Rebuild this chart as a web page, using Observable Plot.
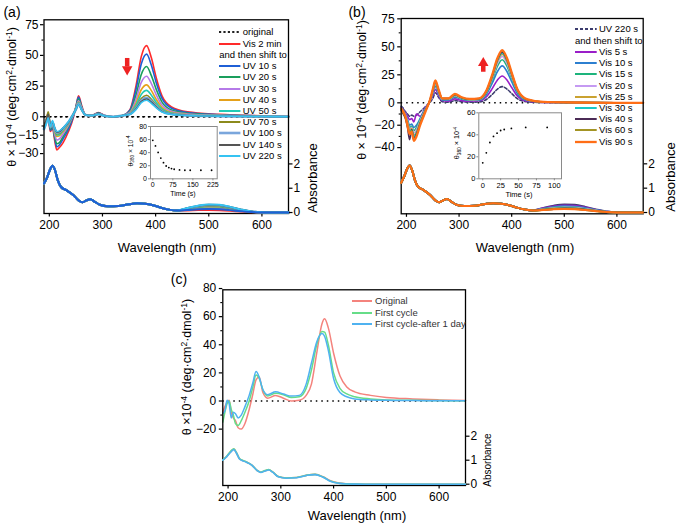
<!DOCTYPE html>
<html><head><meta charset="utf-8">
<script src="https://cdn.jsdelivr.net/npm/d3@7"></script>
<script src="https://cdn.jsdelivr.net/npm/@observablehq/plot@0.6"></script>
<style>
body{margin:0;background:#fff;}
#root{position:relative;width:678px;height:523px;overflow:hidden;background:#fff;font-family:"Liberation Sans",Arial,Helvetica,sans-serif;}
.sp{font-size:0.68em;vertical-align:0.5em;line-height:0;}
.sb{font-size:0.68em;vertical-align:-0.3em;line-height:0;}
</style></head><body><div id="root"></div>
<script>
// ---------- DATA ----------
// Panel (a) CD spectra
const WL_A = [190,194,198,202,206,210,214,219,226,236,245,250,255,261,268,280,292,305,320,338,352,363,373,383,392,401,412,430,460,520,600,650];
const origA_wl = [190,650];
const origA_v = [0,0];
const cdA_vis2  = [-10,-5,-2,-12,-9,-19,-27,-25,-21,-12,-1,8,17,9,1.5,1,3.5,1,0,1,6,25,49,58,48,32,17,8,4,2,0.8,0.3];
const cdA_uv10  = [-10,-4,-1,-11,-8,-17,-24.5,-23,-18,-10,0,8,16,8,1.5,1,3,1,0,1,5.5,22,43,51,42,28,15,7,3.5,1.7,0.7,0.2];
const cdA_uv20  = [-9,-4,0,-10,-7,-16,-22,-21,-16,-8,1,7.5,14.5,7.5,1.5,1,2.8,0.8,0,1,4.5,17.5,34.5,41,33.5,22.5,12,5.5,2.8,1.4,0.6,0.2];
const cdA_uv30  = [-9,-3,1,-9,-6,-14,-19,-18,-14,-7,1.5,7,13,7,1.5,1,2.5,0.8,0,1,3.8,14,28,33,27,18,9.5,4.5,2.3,1.1,0.5,0.1];
const cdA_uv40  = [-8,-3,3,-8,-5,-12,-16,-15.5,-12,-6,2,7,12,6.5,1.5,1,2.3,0.7,0,1,3.2,11,22,26,21.3,14.3,7.5,3.6,1.8,0.9,0.4,0.1];
const cdA_uv50  = [-9,-4,1,-8,-6,-11,-15,-14.5,-11,-5.5,2,6.5,11.5,6.5,1.5,1,2.2,0.7,0,1,2.8,9.3,18.2,21.5,17.6,11.8,6.2,3,1.5,0.8,0.3,0.1];
const cdA_uv70  = [-9,-3,4,-7,-5,-10,-14,-13.5,-10,-5,2,6.5,11,6,1.5,1,2.1,0.6,0,1,2.4,7.5,14.8,17.5,14.3,9.6,5,2.5,1.3,0.6,0.3,0.1];
const cdA_uv100 = [-10,-5,0,-7,-5,-9.5,-13,-12.5,-9.5,-4.5,2,6,10.5,6,1.5,1,2,0.6,0,1,2.2,6.7,13.1,15.5,12.7,8.5,4.5,2.2,1.1,0.5,0.2,0.1];
const cdA_uv140 = [-9,-3,2,-7,-4,-9,-12.5,-12,-9,-4.5,2,6,10,5.5,1.5,1,2,0.6,0,1,2.1,6.3,12.3,14.5,11.9,8,4.2,2,1,0.5,0.2,0];
const cdA_uv220 = [-10,-6,-1,-8,-3,-9,-12,-11.5,-9,-4,2,6,10,5.5,1.5,1,2,0.6,0,1,2,5.8,11.5,13.5,11,7.4,3.9,1.9,1,0.5,0.2,0];

// Absorbance wavelength grids: short-wavelength part and visible-band part
const WL_ABS_UV = [190,196,201,206,211,216,222,232,245,255,262,270,277,285,295,310,330,350,365,380,395,410,425,440];
const WL_ABS_VIS = [460,480,500,520,540,560,580,600,620,650];
// Panel (a) absorbance (curves overlap below 440 nm; differ in the visible band)
const absA_uv = [1.2,1.45,1.75,1.92,1.72,1.32,1.05,0.92,0.72,0.5,0.42,0.5,0.55,0.45,0.32,0.26,0.27,0.34,0.38,0.36,0.3,0.2,0.12,0.08];
const absA_vis2  = [0.086,0.102,0.108,0.096,0.071,0.04,0.015,0.002,0,0];
const absA_uv10  = [0.104,0.134,0.146,0.134,0.099,0.056,0.019,0.004,0,0];
const absA_uv20  = [0.122,0.165,0.185,0.172,0.127,0.071,0.024,0.005,0,0];
const absA_uv30  = [0.136,0.188,0.214,0.2,0.148,0.082,0.028,0.006,0,0];
const absA_uv40  = [0.149,0.212,0.243,0.229,0.169,0.094,0.031,0.007,0,0];
const absA_uv50  = [0.158,0.227,0.263,0.248,0.183,0.101,0.034,0.007,0,0];
const absA_uv70  = [0.167,0.243,0.282,0.267,0.197,0.109,0.036,0.008,0,0];
const absA_uv100 = [0.176,0.258,0.302,0.286,0.211,0.116,0.039,0.008,0,0];
const absA_uv140 = [0.185,0.274,0.321,0.305,0.225,0.124,0.041,0.009,0,0];
const absA_uv220 = [0.19,0.282,0.331,0.315,0.232,0.128,0.042,0.009,0,0];

// Panel (a) inset
const insetA_t = [0,10,20,30,40,50,60,70,80,100,120,140,180,220];
const insetA_v = [58.9,50.3,40.3,31.7,24.7,19.6,17.1,15.6,14.6,13.6,13.1,13.1,13.1,13.1];

// Panel (b) CD spectra
const WL_B = [190,194,198,202,206,210,214,219,226,236,245,250,255,261,268,280,292,305,320,338,352,363,373,382,391,400,412,430,460,520,600,650];
const cdB_uv220 = [-3,-5,-8,-10,-12,-11,-12,-11,-8,-3.5,0.5,4,9,5,1,0.5,2,1,0.5,0.8,3,7.5,12.3,14.5,12.3,8.3,3.3,0.9,0.3,0.1,0,0];
const cdB_vis5  = [-4,-6,-9,-12,-15,-14,-17,-10,-12,-4,1.5,6.5,12,6.5,2,1.5,3.5,2,1.5,1.8,5.5,12.7,20.4,24,20.4,13.7,5.5,1.4,0.4,0.1,0,0];
const cdB_vis10 = [-4,-7,-10,-15,-20,-19,-22,-20,-14,-5,2,8,15,8,2.6,2.6,5,3.2,2.2,2.5,7.5,17.5,28,33,28,18.8,7.5,2,0.5,0.2,0,0];
const cdB_vis15 = [-5,-7,-11,-16,-22,-21,-25,-22,-15,-5.5,2,9,16,9,3,3,5.8,3.7,2.5,2.8,8.8,20.4,32.7,38.5,32.7,22,8.8,2.3,0.6,0.2,0,0];
const cdB_vis20 = [-5,-8,-11,-17,-24,-22,-27,-24,-16,-6,2.5,9.5,17,9.5,3.2,3.2,6.3,4,2.7,3,9.5,22,35.3,41.5,35.3,23.7,9.5,2.5,0.6,0.2,0,0];
const cdB_vis25 = [-6,-8,-13,-18,-25,-23,-29,-26,-17,-6.5,2.5,10,18,10,3.4,3.4,6.7,4.2,2.9,3.2,10,23,37,43.5,37,24.8,10,2.6,0.7,0.3,0,0];
const cdB_vis30 = [-5,-9,-12,-19,-26,-24,-30,-27,-18,-7,2.5,10.5,18.5,10.5,3.6,3.6,7,4.4,3,3.4,10.2,23.5,37.8,44.5,37.8,25.3,10.2,2.7,0.7,0.3,0,0];
const cdB_vis40 = [-7,-10,-14,-22,-33,-24,-32,-28,-18.5,-7,3,11,19,11,3.8,3.8,7.2,4.6,3.2,3.6,10.5,24,38.7,45.5,38.7,26,10.5,2.8,0.7,0.3,0,0];
const cdB_vis60 = [-6,-9,-13,-21,-27,-25,-33,-29,-19,-7.5,3,11.5,19.5,11.5,4,4,7.5,4.8,3.3,3.8,10.8,24.5,39.5,46.5,39.5,26.5,10.8,3,0.8,0.3,0,0];
const cdB_vis90 = [-5,-8,-12,-20,-28,-26,-34,-30,-20,-8,3,12,20,12,4,4,8,5,3.5,4,11,25,40,47,40,27,11,3,0.8,0.3,0,0];

// Panel (b) absorbance
const absB_uv = [1.22,1.5,1.78,1.93,1.72,1.33,1.06,0.93,0.72,0.5,0.42,0.5,0.55,0.45,0.32,0.27,0.28,0.35,0.38,0.36,0.3,0.2,0.12,0.08];
const absB_uv220 = [0.19,0.282,0.331,0.315,0.232,0.128,0.042,0.009,0,0];
const absB_vis5  = [0.172,0.251,0.292,0.277,0.204,0.113,0.037,0.008,0,0];
const absB_vis10 = [0.154,0.219,0.253,0.239,0.176,0.097,0.033,0.007,0,0];
const absB_vis15 = [0.14,0.196,0.224,0.21,0.155,0.086,0.029,0.006,0,0];
const absB_vis20 = [0.131,0.18,0.205,0.191,0.141,0.078,0.027,0.005,0,0];
const absB_vis25 = [0.122,0.165,0.185,0.172,0.127,0.071,0.024,0.005,0,0];
const absB_vis30 = [0.118,0.157,0.176,0.163,0.12,0.067,0.023,0.005,0,0];
const absB_vis40 = [0.113,0.149,0.166,0.153,0.113,0.063,0.022,0.004,0,0];
const absB_vis60 = [0.109,0.141,0.156,0.144,0.106,0.059,0.021,0.004,0,0];
const absB_vis90 = [0.104,0.134,0.146,0.134,0.099,0.056,0.019,0.004,0,0];

// Panel (b) inset
const insetB_t = [0,5,10,15,20,25,30,40,60,90];
const insetB_v = [14.5,23.6,33,38.5,41.5,43.9,44.8,45.8,46.7,46.7];

// Panel (c) CD spectra
const WL_C = [190,194,198,202,206,210,214,219,225,232,240,247,253,259,266,275,290,305,320,335,348,358,368,378,383,390,400,412,425,440,470,500,550,600,650];
const cdC_orig  = [-8,-4,-1,0.5,-8,-12,-14,-19,-20,-16,-6,5,15,17,6,2,4,2,0,0.5,4,12,34,55,58.5,52,34,18,10,6.5,4,2.5,1.5,0.8,0.3];
const cdC_first = [-15,-8,-2,0,-6,-10,-16,-17.5,-14,-8,0,10,18.5,16,8,3.5,5.5,4.5,2.5,3,9,22,40,49.5,49,40,20,9,5,3,1.5,0.8,0.5,0.3,0.1];
const cdC_day   = [-9,-7,0.5,-2,-12,-8,-9,-12,-10,-4,4,13,21,17,8,4.5,6.5,5,3.5,4,12,27,42,48,46,36,16,6,3,1.5,0.8,0.5,0.3,0.2,0.1];
// Panel (c) absorbance
const absC_orig_uv  = [1.0,1.12,1.25,1.38,1.46,1.3,1.05,0.95,0.8,0.58,0.5,0.56,0.6,0.5,0.32,0.26,0.28,0.38,0.41,0.31,0.13,0.045,0.015,0.005];
const absC_first_uv = [1.0,1.13,1.27,1.4,1.48,1.31,1.06,0.96,0.8,0.58,0.5,0.57,0.61,0.5,0.32,0.26,0.28,0.38,0.41,0.3,0.12,0.04,0.012,0.004];
const absC_day_uv   = [1.0,1.11,1.24,1.36,1.44,1.29,1.04,0.94,0.79,0.57,0.49,0.55,0.59,0.49,0.31,0.25,0.27,0.37,0.4,0.29,0.11,0.035,0.01,0.003];
const absC_vis = [0,0,0,0,0,0,0,0,0,0];

// Tick labels
const X_TICKS = [200,300,400,500,600];
const YA_TICKS = [-30,-15,0,25,50,75];
const YB_TICKS = [-40,-20,0,25,50,75];
const YC_TICKS = [-20,0,20,40,60,80];
const ABS_TICKS = [0,1,2];
const INSET_A_XT = [0,75,150,225];
const INSET_A_YT = [0,20,40,60,80];
const INSET_B_XT = [0,25,50,75,100];
const INSET_B_YT = [0,20,40,60];

// ---------- SERIES DEFINITIONS ----------
const WL_ABS = WL_ABS_UV.concat(WL_ABS_VIS);
const seriesA = [
  {name:"Vis 2 min", c:"#ff2a2a", cd:cdA_vis2, ab:absA_uv.concat(absA_vis2)},
  {name:"UV 10 s",  c:"#1f5fd6", cd:cdA_uv10, ab:absA_uv.concat(absA_uv10)},
  {name:"UV 20 s",  c:"#1a9e5c", cd:cdA_uv20, ab:absA_uv.concat(absA_uv20)},
  {name:"UV 30 s",  c:"#b57ae8", cd:cdA_uv30, ab:absA_uv.concat(absA_uv30)},
  {name:"UV 40 s",  c:"#e5a11a", cd:cdA_uv40, ab:absA_uv.concat(absA_uv40)},
  {name:"UV 50 s",  c:"#22cbb5", cd:cdA_uv50, ab:absA_uv.concat(absA_uv50)},
  {name:"UV 70 s",  c:"#8c8a1c", cd:cdA_uv70, ab:absA_uv.concat(absA_uv70)},
  {name:"UV 100 s", c:"#7aa6dc", cd:cdA_uv100, ab:absA_uv.concat(absA_uv100), sw:2.6},
  {name:"UV 140 s", c:"#555555", cd:cdA_uv140, ab:absA_uv.concat(absA_uv140)},
  {name:"UV 220 s", c:"#35c3f2", cd:cdA_uv220, ab:absA_uv.concat(absA_uv220)}
];
const seriesB = [
  {name:"UV 220 s", c:"#3c3c6e", cd:cdB_uv220, ab:absB_uv.concat(absB_uv220), dash:"3,2"},
  {name:"Vis 5 s",  c:"#9a1ec8", cd:cdB_vis5,  ab:absB_uv.concat(absB_vis5)},
  {name:"Vis 10 s", c:"#2c7fd0", cd:cdB_vis10, ab:absB_uv.concat(absB_vis10)},
  {name:"Vis 15 s", c:"#1db47c", cd:cdB_vis15, ab:absB_uv.concat(absB_vis15)},
  {name:"Vis 20 s", c:"#c59af2", cd:cdB_vis20, ab:absB_uv.concat(absB_vis20)},
  {name:"Vis 25 s", c:"#caa230", cd:cdB_vis25, ab:absB_uv.concat(absB_vis25)},
  {name:"Vis 30 s", c:"#19c7c7", cd:cdB_vis30, ab:absB_uv.concat(absB_vis30)},
  {name:"Vis 40 s", c:"#4b2b56", cd:cdB_vis40, ab:absB_uv.concat(absB_vis40)},
  {name:"Vis 60 s", c:"#a39424", cd:cdB_vis60, ab:absB_uv.concat(absB_vis60)},
  {name:"Vis 90 s", c:"#ff6e16", cd:cdB_vis90, ab:absB_uv.concat(absB_vis90), sw:2.3}
];
const seriesC = [
  {name:"Original", c:"#f4837d", cd:cdC_orig, ab:absC_orig_uv.concat(absC_vis)},
  {name:"First cycle", c:"#66dd88", cd:cdC_first, ab:absC_first_uv.concat(absC_vis)},
  {name:"First cycle-after 1 day", c:"#4fb2f0", cd:cdC_day, ab:absC_day_uv.concat(absC_vis)}
];

// ---------- HELPERS ----------
const FONT = "'Liberation Sans', Arial, Helvetica, sans-serif";
const root = document.getElementById("root");
function place(el, left, top) {
  el.style.position = "absolute";
  el.style.left = left + "px";
  el.style.top = top + "px";
  el.style.background = "transparent";
  el.style.overflow = "visible";
  el.style.maxWidth = "none";
  root.appendChild(el);
}
function label(html, x, y, size, opts = {}) {
  const d = document.createElement("div");
  d.innerHTML = html;
  const tx = opts.anchor === "start" ? "0" : "-50%";
  d.style.cssText = `position:absolute;left:${x}px;top:${y}px;font-size:${size}px;white-space:nowrap;line-height:1;color:${opts.color||"#000"};font-family:${FONT};transform:translate(${tx},-50%)${opts.rotate?" rotate(-90deg)":""};`;
  root.appendChild(d);
}
function legend(items, x0, x1, xText, y0, dy, size, color) {
  items.forEach((it, i) => {
    const y = y0 + i * dy;
    if (it.c) {
      const s = d3.create("svg").attr("width", x1 - x0).attr("height", 6)
        .style("position", "absolute").style("left", x0 + "px").style("top", (y - 3) + "px").style("overflow", "visible");
      s.append("line").attr("x1", 0).attr("x2", x1 - x0).attr("y1", 3).attr("y2", 3)
        .attr("stroke", it.c).attr("stroke-width", it.sw || 2).attr("stroke-dasharray", it.dash || null);
      root.appendChild(s.node());
      label(it.name, xText, y, size, {anchor: "start", color});
    } else {
      label(it.name, x0, y, size, {anchor: "start", color});
    }
  });
}
const rows = (wl, v) => wl.map((w, i) => ({x: w, y: v[i]}));

function panel(cfg) {
  const cdMarks = [];
  cfg.series.forEach(s => cdMarks.push(Plot.line(rows(cfg.wl, s.cd), {
    x: "x", y: "y", stroke: s.c, strokeWidth: s.sw || cfg.sw, curve: "monotone-x",
    strokeDasharray: s.dash || null
  })));
  const main = Plot.plot({
    width: cfg.w, height: cfg.h,
    marginLeft: cfg.ml, marginRight: cfg.mr, marginTop: cfg.mt, marginBottom: cfg.mb,
    x: {domain: cfg.xd}, y: {domain: cfg.yd},
    style: {fontFamily: FONT, fontSize: "12px", color: "#000", background: "transparent"},
    marks: [
      Plot.ruleY([0], {stroke: "#000", strokeWidth: 1.6, strokeDasharray: "1.5,4"}),
      ...(cfg.extra || []),
      ...cdMarks,
      Plot.axisY({ticks: cfg.yt, tickSize: 3.5, tickPadding: cfg.tp || 2, fontSize: 12, label: null, strokeWidth: 1.2}),
      Plot.axisY({ticks: cfg.ym, tickSize: 2, tickFormat: () => "", label: null, strokeWidth: 1.1}),
      Plot.axisX({ticks: X_TICKS, tickSize: 3.5, tickPadding: 3, fontSize: 12, label: null, strokeWidth: 1.2}),
      Plot.frame({stroke: "#000", strokeWidth: 1.3})
    ]
  });
  place(main, cfg.left, cfg.top);
  // absorbance traces; optional series index drawn last (on top), as in the original figure
  const order = cfg.series.map((s, i) => i);
  if (cfg.abTop != null) { order.splice(cfg.abTop, 1); order.push(cfg.abTop); }
  const abMarks = order.map(i => cfg.series[i]).map(s => Plot.line(rows(WL_ABS, s.ab), {
    x: "x", y: "y", stroke: s.c, strokeWidth: cfg.asw, curve: "monotone-x"
  }));
  const ab = Plot.plot({
    width: cfg.w, height: cfg.h,
    marginLeft: cfg.ml, marginRight: cfg.mr, marginTop: cfg.mt, marginBottom: cfg.mb,
    x: {domain: cfg.xd, axis: null}, y: {domain: cfg.ad},
    style: {fontFamily: FONT, fontSize: "12px", color: "#000", background: "transparent"},
    marks: [
      ...abMarks,
      Plot.axisY({anchor: "right", ticks: ABS_TICKS, tickSize: 3.5, tickPadding: 1.5, fontSize: 12, label: null, strokeWidth: 1.2})
    ]
  });
  place(ab, cfg.left, cfg.top);
}

function inset(cfg) {
  const p = Plot.plot({
    width: cfg.w, height: cfg.h,
    marginLeft: cfg.ml, marginRight: cfg.mr, marginTop: cfg.mt, marginBottom: cfg.mb,
    x: {domain: cfg.xd}, y: {domain: cfg.yd},
    style: {fontFamily: FONT, fontSize: "7px", color: "#000", background: "transparent"},
    marks: [
      Plot.frame({fill: "white", stroke: "#8a8a8a", strokeWidth: 1}),
      Plot.axisX({ticks: cfg.xt, tickSize: 2, tickPadding: 1.5, fontSize: cfg.fs, label: null, stroke: "#8a8a8a"}),
      Plot.axisY({ticks: cfg.yt, tickSize: 2, tickPadding: 1.5, fontSize: cfg.fs, label: null, stroke: "#8a8a8a"}),
      Plot.dot(rows(cfg.t, cfg.v), {x: "x", y: "y", r: 0.9, fill: "#000"})
    ]
  });
  place(p, cfg.left, cfg.top);
}

// ---------- PANEL (a) ----------
panel({
  left: 0, top: 0, w: 340, h: 260, ml: 43.5, mr: 52, mt: 19.3, mb: 47,
  xd: [190, 650], yd: [-78.8, 79], yt: YA_TICKS, ym: [-22.5, -7.5, 12.5, 37.5, 62.5],
  ad: [-0.04, 7.93], wl: WL_A, series: seriesA, sw: 1.6, asw: 2, abTop: 1,
  extra: [
    Plot.line(rows(origA_wl, origA_v), {x: "x", y: "y", stroke: "#000", strokeWidth: 1.6, strokeDasharray: "1.5,4"}),
    Plot.ruleX([346.5], {y1: 47.5, y2: 40.5, stroke: "#ee2222", strokeWidth: 4.5}),
    Plot.dot([346.5], {x: d => d, y: 38.6, symbol: "triangle", r: 3.9, fill: "#ee2222", rotate: 180})
  ]
});
inset({left: 120, top: 115, w: 110, h: 90, ml: 30, mr: 13.3, mt: 11, mb: 26.7,
  xd: [-8.6, 241], yd: [0, 80], xt: INSET_A_XT, yt: INSET_A_YT, t: insetA_t, v: insetA_v, fs: 7});
label("(a)", 12, 12, 14);
label('θ × 10<span class="sp">-4</span> (deg·cm<span class="sp">2</span>·dmol<span class="sp">-1</span>)', 12, 97, 12.5, {rotate: true});
label("Absorbance", 312, 178, 13, {rotate: true});
label("Wavelength (nm)", 167, 247, 13);
label('θ<span class="sb">380</span> × 10<span class="sp">-4</span>', 131, 151, 6.8, {rotate: true});
label("Time (s)", 183, 193, 7);
legend([
  {name: "original", c: "#222", dash: "2.2,2.2"},
  ...seriesA.slice(0, 1),
  {name: "and then shift to"},
  ...seriesA.slice(1)
], 219.3, 240.7, 242.7, 32.3, 11.24, 9.5, "#000");

// ---------- PANEL (b) ----------
panel({
  left: 340, top: 0, w: 338, h: 260, ml: 60.7, mr: 35.3, mt: 18, mb: 46.7,
  xd: [190, 650], yd: [-99.1, 75.3], yt: YB_TICKS, ym: [-30, -10, 12.5, 37.5, 62.5], tp: 3,
  ad: [-0.053, 7.97], wl: WL_B, series: seriesB, sw: 1.6, asw: 2,
  extra: [
    Plot.ruleX([346], {y1: 27.3, y2: 33.8, stroke: "#ee2222", strokeWidth: 4.5}),
    Plot.dot([346], {x: d => d, y: 35.5, symbol: "triangle", r: 3.9, fill: "#ee2222"})
  ]
});
inset({left: 440, top: 100, w: 130, h: 100, ml: 38.3, mr: 9, mt: 12.3, mb: 21.7,
  xd: [-5.5, 110], yd: [0, 60], xt: INSET_B_XT, yt: INSET_B_YT, t: insetB_t, v: insetB_v, fs: 7.5});
label("(b)", 357, 12, 14);
label('θ × 10<span class="sp">-4</span> (deg·cm<span class="sp">2</span>·dmol<span class="sp">-1</span>)', 362, 90, 12.5, {rotate: true});
label("Absorbance", 670, 177, 13, {rotate: true});
label("Wavelength (nm)", 525, 247, 13);
label('θ<span class="sb">380</span> × 10<span class="sp">-4</span>', 457, 143, 7.2, {rotate: true});
label("Time (s)", 519, 195, 7.5);
legend([
  seriesB[0],
  {name: "and then shift to"},
  ...seriesB.slice(1)
], 575, 596.7, 599, 29.3, 11.24, 9.5, "#000");

// ---------- PANEL (c) ----------
panel({
  left: 120, top: 270, w: 420, h: 253, ml: 102.3, mr: 75, mt: 19.3, mb: 38,
  xd: [190, 650], yd: [-60.1, 79.1], yt: YC_TICKS, ym: [-10, 10, 30, 50, 70], tp: 3,
  ad: [-0.054, 8.1], wl: WL_C, series: seriesC, sw: 1.5, asw: 1.6
});
label("(c)", 179, 279, 14);
label('θ ×10<span class="sp">-4</span> (deg·cm<span class="sp">2</span>·dmol<span class="sp">-1</span>)', 187, 367, 12.5, {rotate: true});
label("Absorbance", 488, 460, 10, {rotate: true});
label("Wavelength (nm)", 357, 515, 13);
legend(seriesC, 351.7, 371.7, 375, 301, 11.5, 9.5, "#333");
</script></body></html>
